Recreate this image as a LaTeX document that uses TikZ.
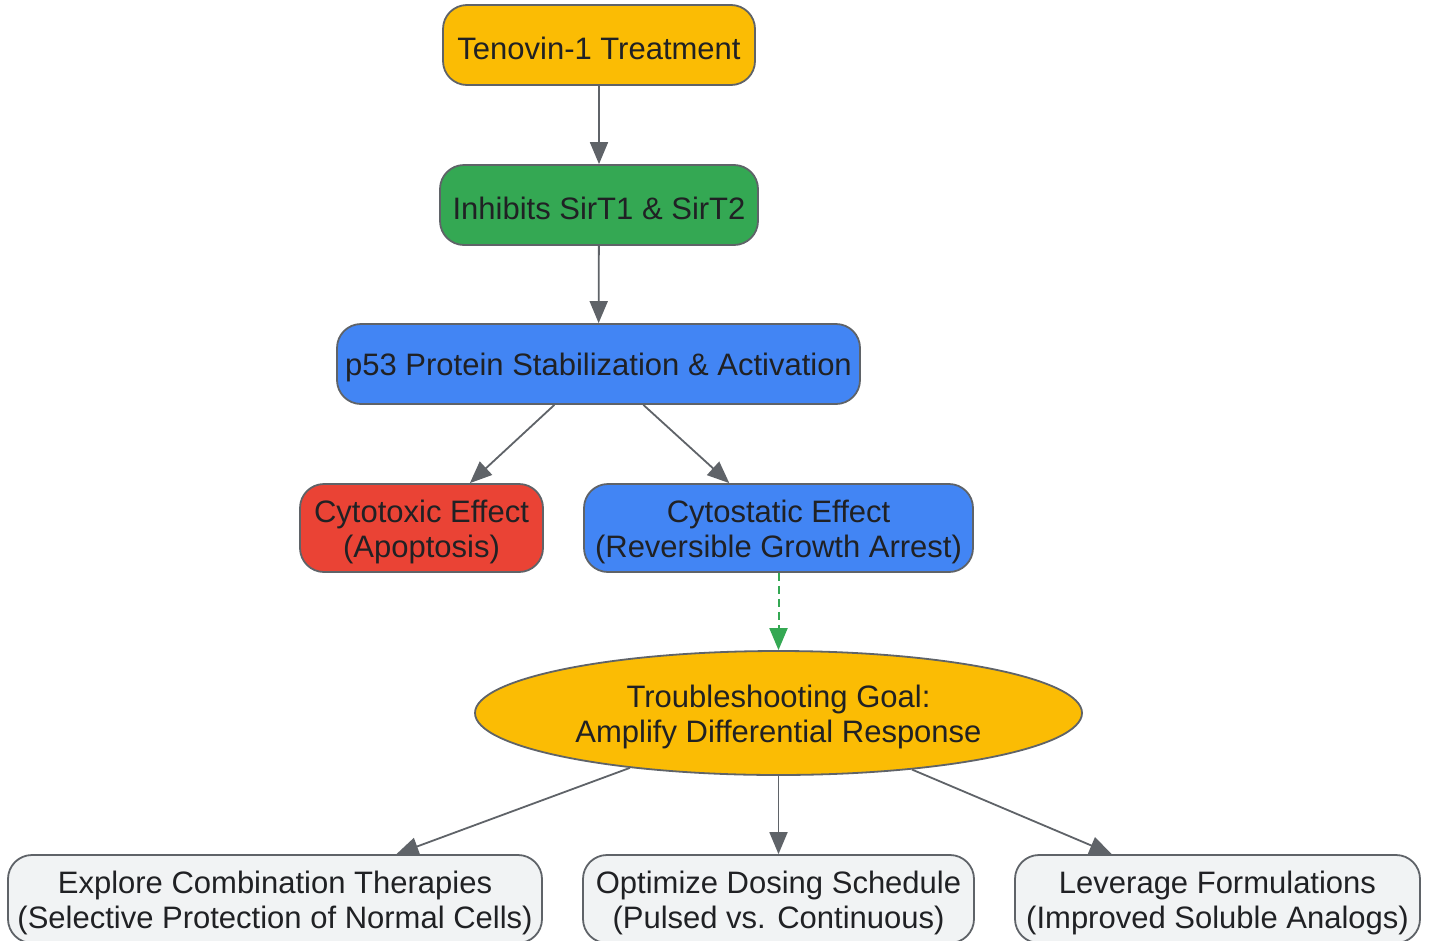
\documentclass[tikz,border=0pt]{standalone}
\usepackage{fontspec}
\setmainfont{Liberation Sans}
\usetikzlibrary{arrows.meta,shapes.geometric}
\definecolor{gyellow}{HTML}{FBBC04}
\definecolor{ggreen}{HTML}{34A853}
\definecolor{gblue}{HTML}{4285F4}
\definecolor{gred}{HTML}{EA4335}
\definecolor{glight}{HTML}{F1F3F4}
\definecolor{gborder}{HTML}{5F6368}
\definecolor{gtext}{HTML}{202124}
\newcommand\twolines[2]{\raisebox{-4.5pt}[\height][\depth]{\begin{tabular}{@{}c@{}}#1\\#2\end{tabular}}}
\tikzset{
  box/.style={draw=gborder, line width=1.8pt, rounded corners=24pt, inner sep=0pt,
    text=gtext, font=\fontsize{31}{35}\selectfont},
  oneline/.style={execute at begin node={\rule{0pt}{30pt}}},
  oval/.style={draw=gborder, line width=1.8pt, ellipse, inner sep=0pt,
    text=gtext, font=\fontsize{31}{35}\selectfont},
  conn/.style={draw=gborder, line width=1.8pt, -{Triangle[length=22pt,width=18pt]}},
  dconn/.style={draw=ggreen, line width=2pt, dash pattern=on 8pt off 5pt,
    -{Triangle[length=22pt,width=18pt]}}
}
\begin{document}
\begin{tikzpicture}[x=1pt,y=-1pt]
\useasboundingbox[fill=white] (0,0) rectangle (1430,940);
\node[box, oneline, fill=gyellow, minimum width=312pt, minimum height=80pt] (ten) at (599,45) {Tenovin-1 Treatment};
\node[box, oneline, fill=ggreen, minimum width=318pt, minimum height=80pt] (inh) at (599,205) {Inhibits SirT1 \& SirT2};
\node[box, oneline, fill=gblue, minimum width=523pt, minimum height=80pt] (p53) at (598.5,364) {p53 Protein Stabilization \& Activation};
\node[box, fill=gred, minimum width=243pt, minimum height=88pt] (tox) at (421.5,528) {\twolines{Cytotoxic Effect}{(Apoptosis)}};
\node[box, fill=gblue, minimum width=389pt, minimum height=88pt] (stat) at (778.5,528) {\twolines{Cytostatic Effect}{(Reversible Growth Arrest)}};
\node[oval, fill=gyellow, minimum width=607pt, minimum height=124pt] (goal) at (778.5,713) {\twolines{Troubleshooting Goal:}{Amplify Differential Response}};
\node[box, fill=glight, minimum width=534pt, minimum height=88pt] (exp) at (275,899) {\twolines{Explore Combination Therapies}{(Selective Protection of Normal Cells)}};
\node[box, fill=glight, minimum width=391pt, minimum height=88pt] (opt) at (778.5,899) {\twolines{Optimize Dosing Schedule}{(Pulsed vs. Continuous)}};
\node[box, fill=glight, minimum width=405pt, minimum height=88pt] (lev) at (1217.5,899) {\twolines{Leverage Formulations}{(Improved Soluble Analogs)}};
\draw[conn] (ten) -- (inh);
\draw[conn] (inh) -- (p53);
\draw[conn] (p53) -- (tox);
\draw[conn] (p53) -- (stat);
\draw[dconn] (stat) -- (goal);
\draw[conn] (goal) -- (exp);
\draw[conn] (goal) -- (opt);
\draw[conn] (goal) -- (lev);
\end{tikzpicture}
\end{document}
